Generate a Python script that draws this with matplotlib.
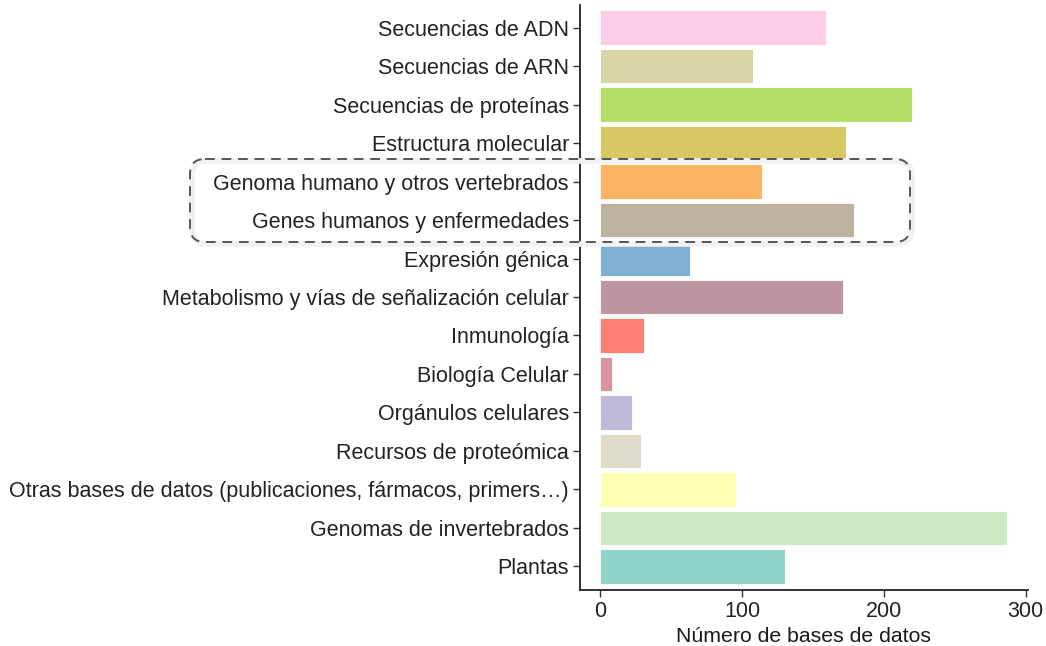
import matplotlib
matplotlib.use("Agg")
import matplotlib.pyplot as plt
from matplotlib.patches import FancyBboxPatch

categories = [
    "Secuencias de ADN",
    "Secuencias de ARN",
    "Secuencias de proteínas",
    "Estructura molecular",
    "Genoma humano y otros vertebrados",
    "Genes humanos y enfermedades",
    "Expresión génica",
    "Metabolismo y vías de señalización celular",
    "Inmunología",
    "Biología Celular",
    "Orgánulos celulares",
    "Recursos de proteómica",
    "Otras bases de datos (publicaciones, fármacos, primers…)",
    "Genomas de invertebrados",
    "Plantas",
]
values = [159, 107.5, 220, 173, 114, 179, 63, 171.5, 31, 8, 22, 28.5, 96, 287, 130.5]
colors = [
    "#FCCDE5", "#D8D5A6", "#B3DE69", "#D7C864", "#FDB462",
    "#BDB29B", "#80B1D3", "#BC95A0", "#FB8072", "#D9949E",
    "#BEBADA", "#DEDCC8", "#FFFFB3", "#CCEBC5", "#8DD3C7",
]
xticks = [0, 100, 200, 300]
xlabel = "Número de bases de datos"

plt.rcParams['font.family'] = ['Liberation Sans', 'DejaVu Sans']

W, H = 1046, 646
fig = plt.figure(figsize=(W / 100, H / 100), dpi=100)
ax = fig.add_axes([580 / W, (H - 589.5) / H, (1027.6 - 580) / W, (589.5 - 4.5) / H])

ypos = list(range(len(categories)))
ax.barh(ypos, values, height=0.9, color=colors, edgecolor='white', linewidth=0.6)
ax.set_yticks(ypos)
ax.set_yticklabels(categories)
ax.set_ylim(len(categories) - 1 + 0.6, -0.6)
ax.set_xlim(-14.35, 301.35)
ax.set_xticks(xticks)
ax.set_xlabel(xlabel, fontsize=15.3, color='#1a1a1a', labelpad=4)

for s in ['top', 'right']:
    ax.spines[s].set_visible(False)
for s in ['left', 'bottom']:
    ax.spines[s].set_linewidth(1.3)
    ax.spines[s].set_color('#222222')
ax.tick_params(axis='both', length=5, width=1.0, color='#333333', labelsize=15.5,
               labelcolor='#222222', pad=3)

# overlay axes in pixel coordinates for the dashed rounded box
ov = fig.add_axes([0, 0, 1, 1], facecolor='none')
ov.set_xlim(0, W)
ov.set_ylim(H, 0)
ov.axis('off')
shadow = FancyBboxPatch((192, 161), 720, 83, boxstyle="round,pad=0,rounding_size=15",
                        fill=False, edgecolor='#f1f1f1', linewidth=4, linestyle='-')
ov.add_patch(shadow)
box = FancyBboxPatch((190, 159), 720, 83, boxstyle="round,pad=0,rounding_size=15",
                     fill=False, edgecolor='#555555', linewidth=1.4,
                     linestyle=(0, (5, 3.5)))
ov.add_patch(box)

fig.savefig("out.png", dpi=100)
